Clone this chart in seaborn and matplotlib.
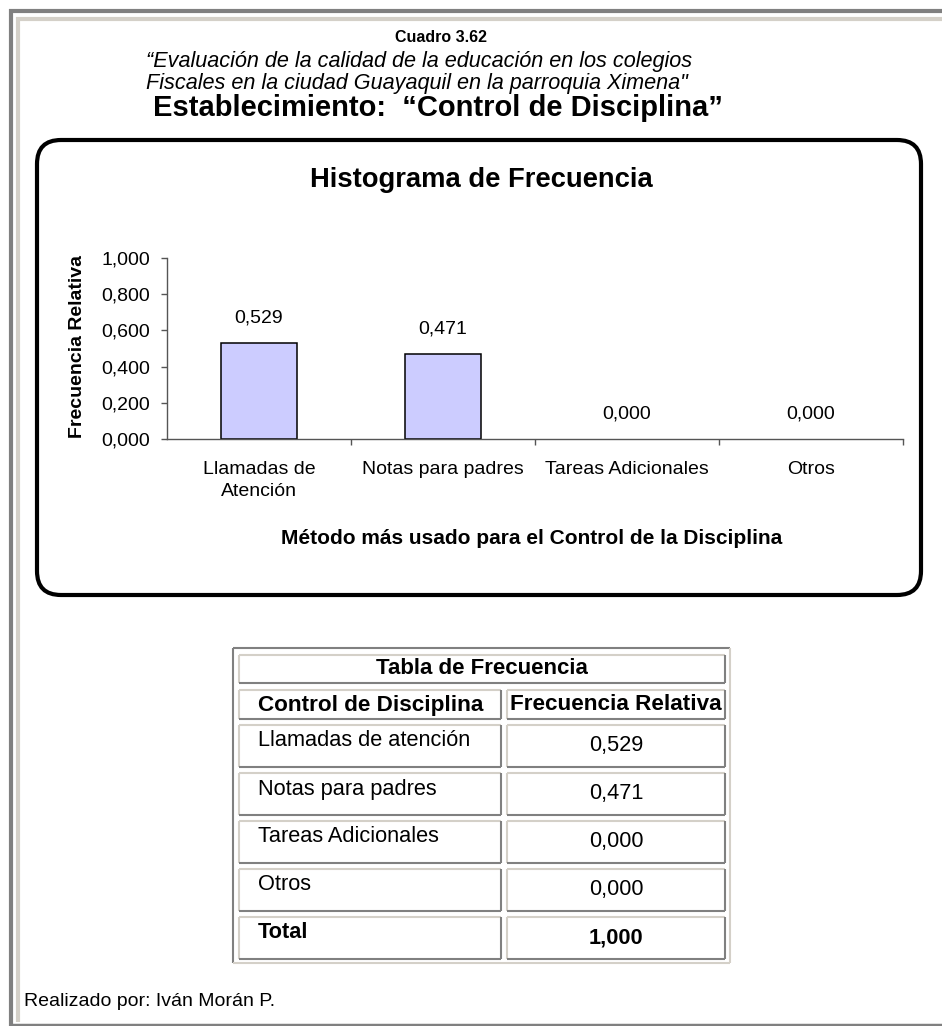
import matplotlib
matplotlib.use("Agg")
import matplotlib.pyplot as plt
import seaborn as sns
import pandas as pd
from matplotlib.patches import FancyBboxPatch
from matplotlib.ticker import FuncFormatter, FixedLocator

# data
categories = ["Llamadas de\nAtención", "Notas para padres", "Tareas Adicionales", "Otros"]
freq_rel = [0.529, 0.471, 0.000, 0.000]
table_labels = ["Llamadas de atención", "Notas para padres", "Tareas Adicionales", "Otros"]
total_label = "Total"
total_value = 1.000
y_ticks = [0.0, 0.2, 0.4, 0.6, 0.8, 1.0]

sns.set_style("white")
plt.rcParams["font.family"] = ["Liberation Sans", "DejaVu Sans"]
plt.rcParams["text.color"] = "black"
plt.rcParams["axes.labelcolor"] = "black"
plt.rcParams["xtick.color"] = "black"
plt.rcParams["ytick.color"] = "black"

DARK = "#808080"
LIGHT = "#d4d0c8"
W, H = 942, 1026


def comma(v):
    return f"{v:.3f}".replace(".", ",")


fig = plt.figure(figsize=(W / 100, H / 100), dpi=100)
fig.patch.set_facecolor("white")

# background layer in pixel coordinates
bg = fig.add_axes([0, 0, 1, 1], zorder=0)
bg.set_xlim(0, W)
bg.set_ylim(H, 0)
bg.axis("off")

# page frame
bg.plot([9, W], [11, 11], color=DARK, lw=3, solid_capstyle="butt")
bg.plot([11, 11], [9, H], color=DARK, lw=3, solid_capstyle="butt")
bg.plot([16, W], [19, 19], color=LIGHT, lw=3, solid_capstyle="butt")
bg.plot([18, 18], [17, 1022], color=LIGHT, lw=3, solid_capstyle="butt")
bg.plot([11, W], [1024.5, 1024.5], color=DARK, lw=2.5, solid_capstyle="butt")

# headings
bg.text(441, 38, "Cuadro 3.62", ha="center", va="center", fontsize=11.5, fontweight="bold")
bg.text(146, 62, "\u201cEvaluación de la calidad de la educación en los colegios",
        ha="left", va="center", fontsize=15.6, style="italic")
bg.text(146, 84, "Fiscales en la ciudad Guayaquil en la parroquia Ximena\"",
        ha="left", va="center", fontsize=15.6, style="italic")
bg.text(438, 108, "Establecimiento:  \u201cControl de Disciplina\u201d",
        ha="center", va="center", fontsize=21, fontweight="bold")

# chart box
box = FancyBboxPatch((37, 140), 884, 455, boxstyle="round,pad=0,rounding_size=24",
                     facecolor="white", edgecolor="black", lw=3)
bg.add_patch(box)
bg.text(481, 180, "Histograma de Frecuencia", ha="center", va="center",
        fontsize=19.7, fontweight="bold")

# bar chart
ax = fig.add_axes([167 / W, (H - 439) / H, 736 / W, 181 / H], zorder=1)
ax.set_facecolor("none")
df = pd.DataFrame({"cat": categories, "freq": freq_rel})
sns.barplot(data=df, x="cat", y="freq", color="#ccccff", edgecolor="black",
            linewidth=1.1, width=0.413, saturation=1, ax=ax)
for p in ax.patches:
    if p.get_height() == 0:
        p.set_linewidth(0)
for c in ax.containers:
    ax.bar_label(c, labels=[comma(v) for v in freq_rel], padding=12, fontsize=14)

ax.set_xlim(-0.5, 3.5)
ax.set_ylim(0, 1.0)
ax.yaxis.set_major_locator(FixedLocator(y_ticks))
ax.yaxis.set_major_formatter(FuncFormatter(lambda v, p: comma(v)))
ax.xaxis.set_minor_locator(FixedLocator([0.5, 1.5, 2.5, 3.5]))
ax.tick_params(axis="y", which="major", direction="out", length=4, width=1,
               color="#555555", pad=8, labelsize=14, left=True)
ax.tick_params(axis="x", which="major", length=0, pad=16, labelsize=14)
ax.tick_params(axis="x", which="minor", direction="out", length=4, width=1,
               color="#555555", bottom=True)
for lbl in ax.get_xticklabels():
    lbl.set_linespacing(1.35)
sns.despine(ax=ax)
for side in ["left", "bottom"]:
    ax.spines[side].set_color("#555555")
    ax.spines[side].set_linewidth(1)

ax.set_ylabel("Frecuencia Relativa", fontsize=14, fontweight="bold")
ax.yaxis.label.set_va("center")
ax.yaxis.set_label_coords((77 - 167) / 736, 0.51)
ax.set_xlabel("Método más usado para el Control de la Disciplina",
              fontsize=15, fontweight="bold")
ax.xaxis.label.set_va("center")
ax.xaxis.set_label_coords(0.495, (439 - 538) / 181)


# table
def bevel(x0, y0, x1, y1, tl, br, lw=1.5):
    kw = dict(lw=lw, solid_capstyle="butt")
    bg.plot([x0, x1], [y0, y0], color=tl, **kw)
    bg.plot([x0, x0], [y0, y1], color=tl, **kw)
    bg.plot([x0, x1], [y1, y1], color=br, **kw)
    bg.plot([x1, x1], [y0, y1], color=br, **kw)


bevel(233, 648, 730, 963, DARK, LIGHT)
bevel(239, 655, 725, 683, LIGHT, DARK)
bg.text(482, 669, "Tabla de Frecuencia", ha="center", va="center",
        fontsize=16, fontweight="bold")

bevel(239, 690, 501, 719, LIGHT, DARK)
bevel(507, 690, 725, 719, LIGHT, DARK)
bg.text(371, 705, "Control de Disciplina", ha="center", va="center",
        fontsize=16.2, fontweight="bold")
bg.text(616, 705, "Frecuencia Relativa", ha="center", va="center",
        fontsize=16.2, fontweight="bold")

row_labels = table_labels + [total_label]
row_values = freq_rel + [total_value]
for i, (lab, val) in enumerate(zip(row_labels, row_values)):
    top = 725 + i * 48
    bevel(239, top, 501, top + 42, LIGHT, DARK)
    bevel(507, top, 725, top + 42, LIGHT, DARK)
    weight = "bold" if lab == total_label else "normal"
    bg.text(258, top + 16, lab, ha="left", va="center", fontsize=15.7, fontweight=weight)
    bg.text(616, top + 21, comma(val), ha="center", va="center", fontsize=15.7,
            fontweight=weight)

bg.text(24, 1002, "Realizado por: Iván Morán P.", ha="left", va="center", fontsize=14)

fig.savefig("out.png", dpi=100)
